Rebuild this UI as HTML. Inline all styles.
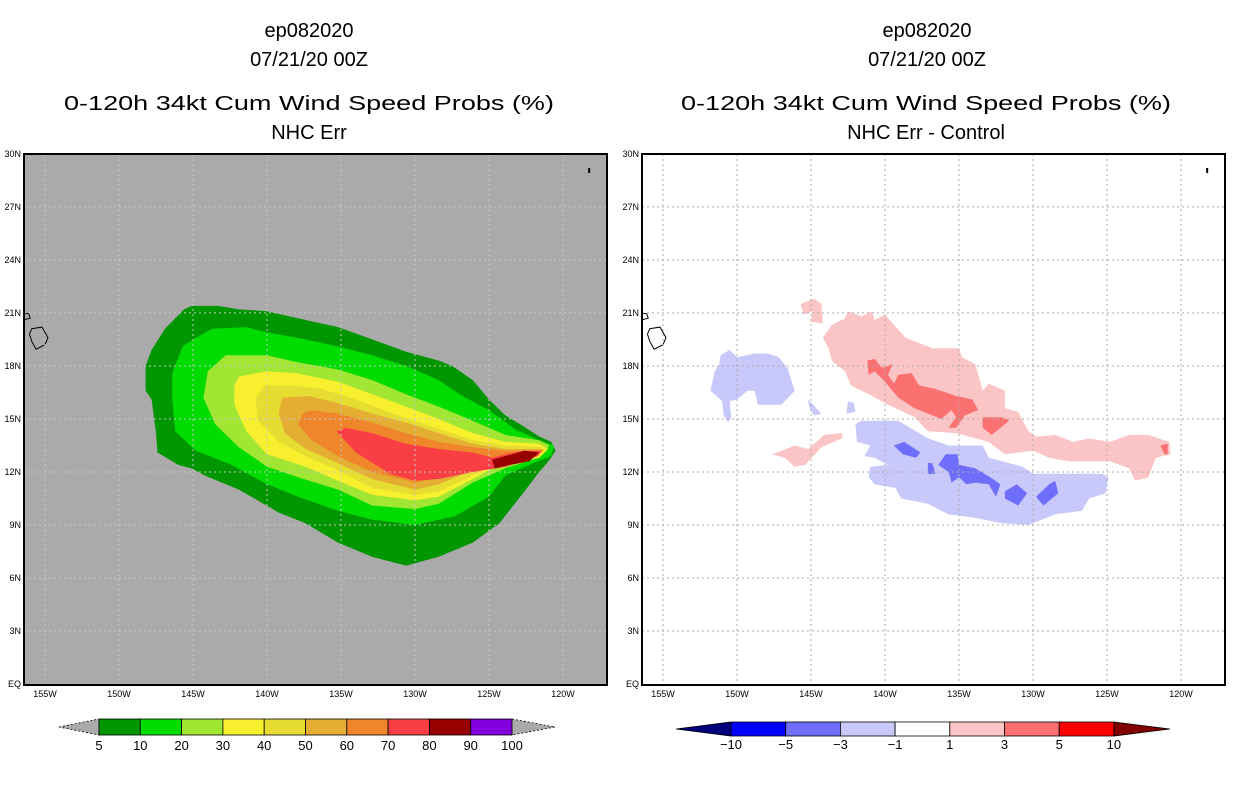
<!DOCTYPE html>
<html><head><meta charset="utf-8"><style>
html,body{margin:0;padding:0;background:#fff;}
svg{display:block;font-family:"Liberation Sans",sans-serif;}
</style></head><body>
<svg id="s" width="1236" height="800" viewBox="0 0 1236 800" xmlns="http://www.w3.org/2000/svg">
<defs>
<clipPath id="cl"><rect x="24" y="154" width="583" height="531"/></clipPath>
<clipPath id="cr"><rect x="642" y="154" width="583" height="531"/></clipPath>
</defs>
<g font-size="20" text-anchor="middle" fill="#000">
<text x="309" y="37">ep082020</text><text x="309" y="66">07/21/20 00Z</text>
<text x="309" y="110" textLength="490" lengthAdjust="spacingAndGlyphs">0-120h 34kt Cum Wind Speed Probs (%)</text>
<text x="309" y="139">NHC Err</text></g>
<g font-size="20" text-anchor="middle" fill="#000">
<text x="927" y="37">ep082020</text><text x="927" y="66">07/21/20 00Z</text>
<text x="926" y="110" textLength="490" lengthAdjust="spacingAndGlyphs">0-120h 34kt Cum Wind Speed Probs (%)</text>
<text x="926" y="139">NHC Err - Control</text></g>
<rect x="24" y="154" width="583" height="531" fill="#aaaaaa"/>
<rect x="642" y="154" width="583" height="531" fill="#ffffff"/>
<g id="L" clip-path="url(#cl)"></g>
<g id="R" clip-path="url(#cr)"></g>
<g id="A"></g>
</svg>
<script>
const NS="http://www.w3.org/2000/svg";
const lonTicks=[-155,-150,-145,-140,-135,-130,-125,-120];
const lonLabels=["155W","150W","145W","140W","135W","130W","125W","120W"];
const latTicks=[0,3,6,9,12,15,18,21,24,27,30];
const latLabels=["EQ","3N","6N","9N","12N","15N","18N","21N","24N","27N","30N"];
const probLevels=[5,10,20,30,40,50,60,70,80,90,100];
const probColors=["#009600","#00dc00","#a0e632","#f8ef2e","#e6dc32","#e4ae33","#ef862b","#fa3f44","#960000","#8200dc"];
const diffLevels=[-10,-5,-3,-1,1,3,5,10];
const diffColors=["#0000ff","#6e6efa","#c8c8fa","#ffffff","#fcc5c5","#fb7070","#ff0000"];
const diffEndColors=["#00007a","#800000"];
// probability contours [lon,lat]
const c5=[[-145.6,21.2],[-145.1,21.4],[-143.3,21.4],[-141.9,21.2],[-140,21.1],[-137.4,20.6],[-135.2,20.2],[-132.9,19.5],[-130.6,18.8],[-128.4,18.3],[-127.5,18],[-126.1,17.2],[-125,16.1],[-123.9,15.2],[-122.7,14.6],[-121.6,14],[-120.8,13.7],[-120.5,13.2],[-120.9,12.7],[-121.8,11.8],[-122.7,10.8],[-124.3,9.1],[-126.1,8],[-128.4,7.2],[-130.6,6.7],[-132.9,7.2],[-135.2,8],[-137.4,9.1],[-139.2,9.7],[-141.9,11],[-144.2,11.8],[-145.1,12.2],[-146,12.4],[-147.4,13.1],[-147.5,14.2],[-147.8,16.1],[-148.2,16.6],[-148.2,18],[-147.8,18.9],[-146.9,20.1]];
const c10=[[-143.7,20.1],[-141.4,20.2],[-140,19.9],[-137.4,19.5],[-135.2,19.1],[-132.9,18.6],[-130.6,18],[-128.4,17.2],[-126.8,16.3],[-125,15.5],[-123.2,14.4],[-121.6,13.8],[-120.6,13.5],[-120.8,12.9],[-122,12.5],[-123.9,11.8],[-125,10.6],[-127.3,9.5],[-130,9.0],[-132.9,9.3],[-135.2,9.8],[-137.9,10.6],[-140,11.3],[-142.4,12.4],[-144.8,13.2],[-146.2,14.3],[-146.4,16.1],[-146.4,17.6],[-145.7,19.1],[-144.8,19.6]];
const c20=[[-142.8,18.6],[-140,18.6],[-137.9,18.2],[-135.2,17.8],[-132.9,17.2],[-130.6,16.4],[-128.4,15.7],[-126.1,14.9],[-123.9,14.1],[-121.6,13.8],[-120.9,13.5],[-121.6,12.8],[-123.9,12.2],[-126.1,11.4],[-128.4,10.2],[-130,9.9],[-132.9,10.1],[-135.2,11],[-137.9,11.7],[-140,12.3],[-141.9,13.4],[-143.5,14.7],[-144.3,16.2],[-144,17.7]];
const c30=[[-141.9,17.4],[-140,17.7],[-138.1,17.6],[-135.2,17.1],[-132.9,16.4],[-130.6,15.7],[-128.4,15],[-126.1,14.2],[-123.9,13.7],[-121.6,13.6],[-121,13.3],[-121.6,12.8],[-123.9,12.6],[-126.1,11.6],[-128.4,10.6],[-130,10.4],[-132.9,10.7],[-135.2,11.5],[-137.4,12.3],[-140,13],[-141.4,14.3],[-142.2,15.8],[-142.2,16.9]];
const c40=[[-140.1,16.9],[-138.5,16.9],[-136.3,16.7],[-134,16.1],[-131.5,15.3],[-129,14.6],[-126.1,13.8],[-123.9,13.5],[-121.4,13.4],[-121.6,12.9],[-123.9,12.8],[-126.1,11.8],[-128.4,10.9],[-130,10.7],[-132.9,11.1],[-135.2,12.1],[-137.4,12.9],[-139.2,13.7],[-140.6,14.9],[-140.8,16.2]];
const c50=[[-139,16.2],[-137.2,16.3],[-135.2,15.9],[-132.9,15.3],[-130.6,14.8],[-128.4,14.2],[-126.1,13.6],[-123.9,13.3],[-121.3,13.3],[-121.6,13],[-123.9,12.9],[-126.1,12.1],[-128.4,11.3],[-130,11],[-132.9,11.6],[-135.2,12.5],[-137.4,13.3],[-138.8,14.2],[-139.2,15.3]];
const c60=[[-137.6,15.3],[-137,15.5],[-135.2,15.3],[-132.9,14.8],[-130.6,14.2],[-128.4,13.7],[-126.1,13.4],[-123.9,13.2],[-121.3,13.2],[-121.6,13],[-123.9,12.9],[-126.1,12.3],[-128.4,11.7],[-130,11.4],[-132.9,12],[-135.2,12.9],[-137,13.8],[-137.9,14.7]];
const c70=[[-135.3,14.3],[-134.7,14.5],[-132.9,14.2],[-130.6,13.6],[-128.4,13.3],[-126.1,13.1],[-124.8,12.8],[-123.9,13],[-122.7,13.2],[-121.5,13.2],[-121.7,12.9],[-123.9,12.3],[-126.1,12],[-128.4,11.6],[-130,11.5],[-131.7,11.9],[-134,13.1]];
const c80=[[-124.8,12.7],[-123.9,12.9],[-122.6,13.2],[-121.6,13.1],[-122.3,12.6],[-123.6,12.4],[-124.6,12.2]];
// difference contours
const pinkMain=[[-144.2,19.6],[-143.6,20.3],[-142.7,20.7],[-142.5,21.1],[-141.6,20.8],[-140.9,21.1],[-140.7,20.6],[-140,20.9],[-138.6,19.6],[-136.8,19],[-135,19],[-134.8,18.5],[-133.9,18.1],[-133.4,16.6],[-133,17],[-131.9,16.6],[-131.9,15.6],[-131,15.4],[-130.3,14.3],[-129.8,14],[-128.5,14.1],[-127.3,13.7],[-126.2,13.9],[-124.8,13.7],[-123.5,14.1],[-122.2,14.1],[-120.8,13.7],[-120.7,13],[-121.7,12.8],[-122.2,11.7],[-123.1,11.5],[-123.5,12.2],[-124.8,12.6],[-126.6,12.6],[-127.6,12.6],[-128.9,12.8],[-130,13.2],[-131.9,13],[-133,13.7],[-135.2,14.2],[-137.1,14.3],[-138,15.1],[-139.8,15.8],[-141.1,16.4],[-142.3,16.9],[-142.7,17.7],[-143.6,18.3],[-143.8,19]];
const pinkTop=[[-145.7,21.5],[-144.8,21.8],[-144.3,21.5],[-144.2,20.4],[-145,20.5],[-144.9,21.1],[-145.5,20.9]];
const pinkWest=[[-147.6,13],[-146.1,13.5],[-145.2,13.3],[-144.1,14.1],[-142.9,14.2],[-142.9,13.9],[-144.3,13.4],[-145.4,12.4],[-146.1,12.3],[-146.8,12.8]];
const redA=[[-141.2,18.3],[-140.7,18.4],[-140.2,17.9],[-139.5,18.1],[-139.8,17.5],[-139.4,17],[-139.1,17.5],[-138.2,17.6],[-137.7,16.9],[-136.6,16.7],[-135.2,16.3],[-134.1,16.1],[-133.7,15.5],[-134.6,15.2],[-135.2,14.5],[-135.7,14.5],[-135.2,15.1],[-135.5,15.5],[-136.2,15],[-138,15.6],[-139.1,16.2],[-140,17.1],[-140.7,17.7],[-141.1,17.5]];
const redB=[[-133.4,15.1],[-132.1,15.1],[-131.6,14.9],[-132.8,14.1],[-133.4,14.5]];
const redD=[[-121.4,13.5],[-120.9,13.6],[-120.9,13],[-121.1,13]];
const blueWest=[[-151.1,18.6],[-150.5,18.9],[-150,18.5],[-148.8,18.7],[-147.9,18.7],[-147.2,18.5],[-146.6,17.9],[-146.1,16.6],[-147,15.8],[-148.6,15.8],[-148.8,16.6],[-149.3,16.6],[-150,16.1],[-150.5,16],[-150.4,15.1],[-150.6,14.8],[-150.9,15.2],[-151,16],[-151.8,16.6],[-151.5,17.7],[-151.2,18.1]];
const blueSmall1=[[-145.2,16.1],[-144.3,15.3],[-144.8,15.2],[-145.1,15.6]];
const blueSmall2=[[-142.5,16],[-142.1,15.9],[-142,15.4],[-142.6,15.3]];
const blueMain=[[-142,14.7],[-141.6,14.9],[-139.1,14.9],[-137.1,13.9],[-135.7,13.5],[-133.4,13.5],[-133,12.8],[-130.7,12.3],[-130,11.9],[-125.3,11.9],[-124.9,11.7],[-125.1,10.8],[-126.2,10.5],[-126.7,9.8],[-128.5,9.6],[-130.3,9],[-132.1,9.1],[-133.9,9.4],[-135.7,9.6],[-137.1,10.2],[-138.9,10.5],[-139.3,11.1],[-140.7,11.3],[-141.1,11.7],[-141,12.3],[-139.8,12.4],[-140.7,12.8],[-141.4,12.9],[-141,13.5],[-141.9,13.7]];
const blueE=[[-139.4,13.5],[-138.7,13.7],[-137.6,13.1],[-137.9,12.8],[-138.8,13]];
const blueF=[[-136.4,12.4],[-135.9,13],[-135.1,13],[-135,12.4],[-133.9,12.2],[-132.9,11.7],[-132.2,11.3],[-132.5,10.6],[-133,11.3],[-133.9,11.4],[-134.5,11.3],[-135,11.7],[-135.5,11.4],[-135.7,12]];
const blueG=[[-131.9,10.9],[-131.1,11.3],[-130.4,10.8],[-131,10.1],[-131.9,10.5]];
const blueH=[[-129.8,10.6],[-128.9,11.3],[-128.5,11.5],[-128.3,10.8],[-129.3,10.1]];
const blueI=[[-137.1,12.5],[-136.8,12.5],[-136.6,11.9],[-137.1,11.9]];
const hawaiiBig=[[-155.9,20.1],[-155.2,20.2],[-154.8,19.6],[-155,19.2],[-155.6,18.95],[-155.9,19.4],[-156.05,19.8]];
const maui=[[-156.7,21.0],[-156.1,20.95],[-156.0,20.7],[-156.5,20.6],[-156.6,20.8]];

const LX=563, DX=14.8, DY=17.67, Y0=684, ROFF=618;
function px(lon,off){return off+LX+(lon+120)*DX;}
function py(lat){return Y0-lat*DY;}
function poly(g,pts,off,fill,stroke,name){
  const p=document.createElementNS(NS,"polygon");
  p.setAttribute("points",pts.map(q=>px(q[0],off).toFixed(1)+","+py(q[1]).toFixed(1)).join(" "));
  p.setAttribute("fill",fill);
  if(stroke){p.setAttribute("stroke",stroke);p.setAttribute("stroke-width","1");}
  
  
  g.appendChild(p);
}
function el(tag,attrs,parent){const e=document.createElementNS(NS,tag);for(const k in attrs)e.setAttribute(k,attrs[k]);parent.appendChild(e);return e;}
const L=document.getElementById("L"),R=document.getElementById("R"),A=document.getElementById("A");
[c5,c10,c20,c30,c40,c50,c60,c70,c80].forEach((c,i)=>poly(L,c,0,probColors[i],null,"prob-contour-"+probLevels[i]));
poly(R,pinkMain,ROFF,diffColors[4],null,"diff-pos-main");
poly(R,pinkTop,ROFF,diffColors[4],null,"diff-pos-north");
poly(R,pinkWest,ROFF,diffColors[4],null,"diff-pos-west");
[redA,redB,redD].forEach(c=>poly(R,c,ROFF,diffColors[5],null,"diff-pos-strong"));
[blueWest,blueSmall1,blueSmall2,blueMain].forEach(c=>poly(R,c,ROFF,diffColors[2],null,"diff-neg"));
[blueE,blueF,blueG,blueH,blueI].forEach(c=>poly(R,c,ROFF,diffColors[1],null,"diff-neg-strong"));
// coast
[[L,0,"#aaaaaa"],[R,ROFF,"#ffffff"]].forEach(([g,off,f])=>{
  poly(g,hawaiiBig,off,f,"#000","hawaii-coast");
  poly(g,maui,off,f,"#000","maui-coast");
  const d=el("rect",{x:px(-118.3,off),y:py(29.2),width:2,height:5,fill:"#000"},g);
  
  
});
// grid + frames + labels
[[L,0,"#c8c8c8"],[R,ROFF,"#aaaaaa"]].forEach(([g,off,gc])=>{
  lonTicks.forEach(lo=>{const l=el("line",{x1:px(lo,off),x2:px(lo,off),y1:154,y2:685,stroke:gc,"stroke-dasharray":"2,3","stroke-width":1},g);
    
    });
  latTicks.forEach(la=>{if(la===0||la===30)return;const l=el("line",{x1:24+off,x2:607+off,y1:py(la),y2:py(la),stroke:gc,"stroke-dasharray":"2,3","stroke-width":1},g);
    
    });
  const fr=el("rect",{x:24+off,y:154,width:583,height:531,fill:"none",stroke:"#000","stroke-width":2},A);
  
  
  lonTicks.forEach((lo,i)=>{const t=el("text",{x:px(lo,off),y:697,"font-size":9,"text-anchor":"middle"},A);t.textContent=lonLabels[i];
    
    });
  latTicks.forEach((la,i)=>{const t=el("text",{x:21+off,y:py(la)+3,"font-size":9,"text-anchor":"end"},A);t.textContent=latLabels[i];
    
    });
});
// left colorbar
(function(){
  const x0=99,w=41.3,y0=719,h=16;
  const tl=el("polygon",{points:`59,${y0+h/2} ${x0},${y0} ${x0},${y0+h}`,fill:"#aaaaaa",stroke:"#000","stroke-dasharray":"2,2","stroke-width":0.8},A);
  
  
  const xe=x0+w*probColors.length;
  const tr=el("polygon",{points:`${xe},${y0} ${xe+43},${y0+h/2} ${xe},${y0+h}`,fill:"#aaaaaa",stroke:"#000","stroke-dasharray":"2,2","stroke-width":0.8},A);
  
  
  probColors.forEach((c,i)=>{const r=el("rect",{x:x0+i*w,y:y0,width:w,height:h,fill:c,stroke:"#000","stroke-width":0.8},A);
    
    });
  probLevels.forEach((v,i)=>{const t=el("text",{x:x0+i*w,y:750,"font-size":13,"text-anchor":"middle"},A);t.textContent=v;
    
    });
})();
// right colorbar
(function(){
  const x0=731,w=54.7,y0=722,h=14;
  const tl=el("polygon",{points:`676,${y0+h/2} ${x0},${y0} ${x0},${y0+h}`,fill:diffEndColors[0],stroke:"#000","stroke-width":0.8},A);
  
  
  const xe=x0+w*diffColors.length;
  const tr=el("polygon",{points:`${xe},${y0} ${xe+56},${y0+h/2} ${xe},${y0+h}`,fill:diffEndColors[1],stroke:"#000","stroke-width":0.8},A);
  
  
  diffColors.forEach((c,i)=>{const r=el("rect",{x:x0+i*w,y:y0,width:w,height:h,fill:c,stroke:"#000","stroke-width":0.8},A);
    
    });
  diffLevels.forEach((v,i)=>{const t=el("text",{x:x0+i*w,y:749,"font-size":13,"text-anchor":"middle"},A);t.textContent=v<0?"\u2212"+(-v):v;
    
    });
})();
</script>
</body></html>
